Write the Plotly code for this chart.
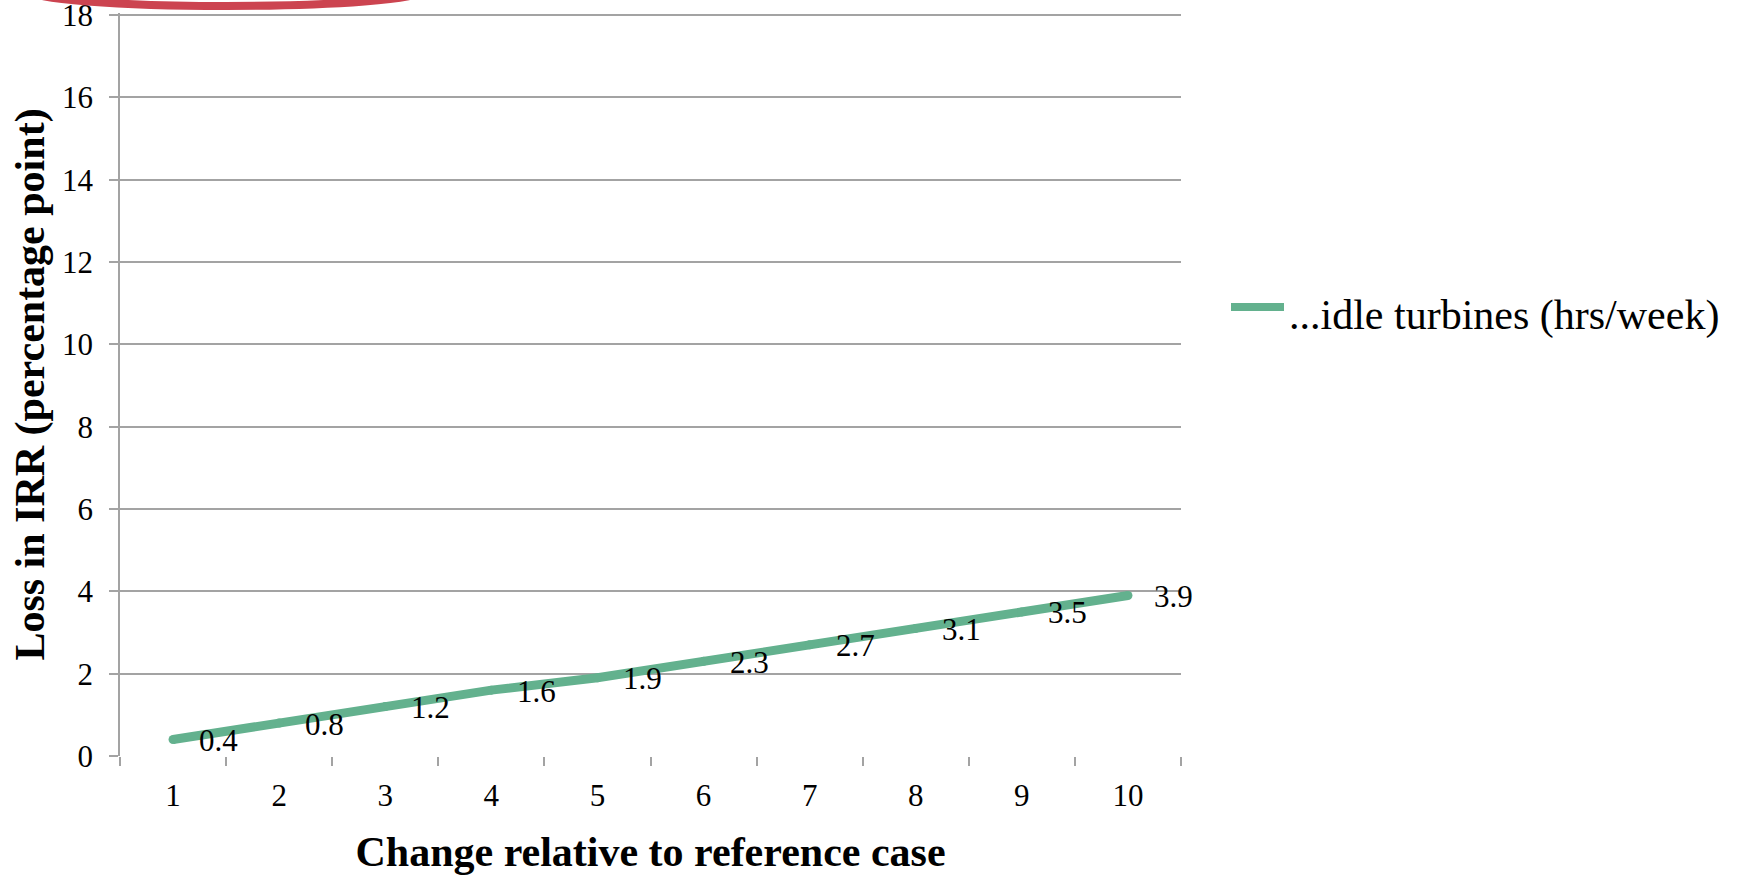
import plotly.graph_objects as go

# Sensitivity of IRR loss to idle turbine hours
categories = ["1", "2", "3", "4", "5", "6", "7", "8", "9", "10"]
irr_loss = [0.4, 0.8, 1.2, 1.6, 1.9, 2.3, 2.7, 3.1, 3.5, 3.9]
y_ticks = [0, 2, 4, 6, 8, 10, 12, 14, 16, 18]
series_name = "...idle turbines (hrs/week)"

W, H = 1739, 875
L, R, T, B = 120, 558, 13, 119
FONT = "Liberation Serif"
GREEN = "#63B18E"
GRID = "#A3A3A3"

pw, ph = W - L - R, H - T - B


def px_x(p):
    return (p - L) / pw


def px_y(p):
    return (H - B - p) / ph


fig = go.Figure()
fig.add_trace(go.Scatter(
    x=categories, y=irr_loss, mode="lines+markers", name=series_name,
    line=dict(color=GREEN, width=9),
    marker=dict(color=GREEN, size=9, line=dict(width=0)),
    showlegend=False,
))

# value labels to the right of each point
for i, v in enumerate(irr_loss):
    fig.add_annotation(
        x=i, y=v, text=f"{v:g}", showarrow=False, xanchor="left",
        yanchor="middle", xshift=24, yshift=-1,
        font=dict(family=FONT, size=31, color="#000"),
    )

# legend entry
fig.add_shape(
    type="line", xref="paper", yref="paper",
    x0=px_x(1231), x1=px_x(1284), y0=px_y(307), y1=px_y(307),
    line=dict(color=GREEN, width=8),
)
fig.add_annotation(
    xref="paper", yref="paper", x=px_x(1287), y=px_y(315),
    text=series_name, showarrow=False, xanchor="left", yanchor="middle",
    font=dict(family=FONT, size=42, color="#000"),
)

# red outline partially visible at the top edge
fig.add_shape(
    type="circle", xref="paper", yref="paper",
    x0=px_x(30), x1=px_x(422), y0=px_y(6), y1=px_y(-24.8),
    line=dict(color="#CC4450", width=8),
)

fig.update_layout(
    width=W, height=H,
    margin=dict(l=L, r=R, t=T, b=B),
    paper_bgcolor="white", plot_bgcolor="white",
    font=dict(family=FONT, color="#000"),
    showlegend=False,
    xaxis=dict(
        type="category", range=[-0.5, 9.5], tickson="boundaries",
        automargin=False,
        ticks="outside", ticklen=9, tickwidth=1.5, tickcolor=GRID,
        showgrid=False, showline=False, zeroline=False,
        tickfont=dict(family=FONT, size=31, color="#000"),
        ticklabelstandoff=18,
        title=dict(text="<b>Change relative to reference case</b>",
                   font=dict(family=FONT, size=42, color="#000"), standoff=24),
    ),
    yaxis=dict(
        range=[0, 18.05], tickvals=y_ticks,
        automargin=False, ticklabeloverflow="allow",
        ticks="outside", ticklen=9, tickwidth=1.5, tickcolor=GRID,
        showgrid=True, gridcolor=GRID, gridwidth=1.5,
        showline=True, linecolor=GRID, linewidth=1.5,
        zeroline=False,
        tickfont=dict(family=FONT, size=31, color="#000"),
        ticklabelstandoff=10,
        title=dict(text="<b>Loss in IRR (percentage point)</b>",
                   font=dict(family=FONT, size=42, color="#000"), standoff=4),
    ),
)

fig.write_html("out.html")
